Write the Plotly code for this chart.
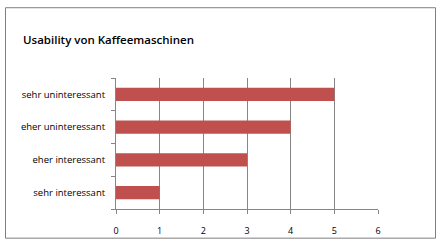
import plotly.graph_objects as go

categories = ["sehr interessant", "eher interessant", "eher uninteressant", "sehr uninteressant"]
values = [1, 3, 4, 5]
x_ticks = [0, 1, 2, 3, 4, 5, 6]
title = "Usability von Kaffeemaschinen"

W, H = 442, 249
L, R, T, B = 116, 64, 78, 34
pw, ph = W - L - R, H - T - B

def px_x(px):
    return (px - L) / pw

def px_y(py):
    return (H - B - py) / ph

fig = go.Figure(go.Bar(
    x=values, y=categories, orientation="h",
    marker=dict(color="#C0504D", line=dict(width=0)),
    width=0.41,
))

grid = "#868686"
font = "'Open Sans', Lato, sans-serif"

fig.update_layout(
    width=W, height=H,
    margin=dict(l=L, r=R, t=T, b=B),
    paper_bgcolor="white", plot_bgcolor="white",
    showlegend=False,
    font=dict(family=font, size=9, color="#000000"),
    title=dict(text=title, x=23 / W, xanchor="left", y=1 - 40 / H, yanchor="middle",
               font=dict(family=font, size=11.5, color="#000000", weight=600)),
    xaxis=dict(range=[0, 6], tickvals=x_ticks, showgrid=True, gridcolor=grid, gridwidth=1,
               showline=True, linecolor=grid, linewidth=1, ticks="outside", ticklen=4,
               tickcolor=grid, zeroline=False, fixedrange=True,
               tickfont=dict(size=9), ticklabelstandoff=9),
    yaxis=dict(categoryorder="array", categoryarray=categories, showline=True, linecolor=grid,
               linewidth=1, ticks="outside", ticklen=4, tickcolor=grid, tickson="boundaries",
               showgrid=False, tickfont=dict(size=9.5), ticklabelstandoff=8),
    shapes=[dict(type="rect", xref="paper", yref="paper",
                 x0=px_x(5.5), x1=px_x(435.5), y0=px_y(245.5), y1=px_y(4.5),
                 line=dict(color="#7f7f7f", width=1), fillcolor="rgba(0,0,0,0)", layer="below")],
)

fig.write_html("out.html")
